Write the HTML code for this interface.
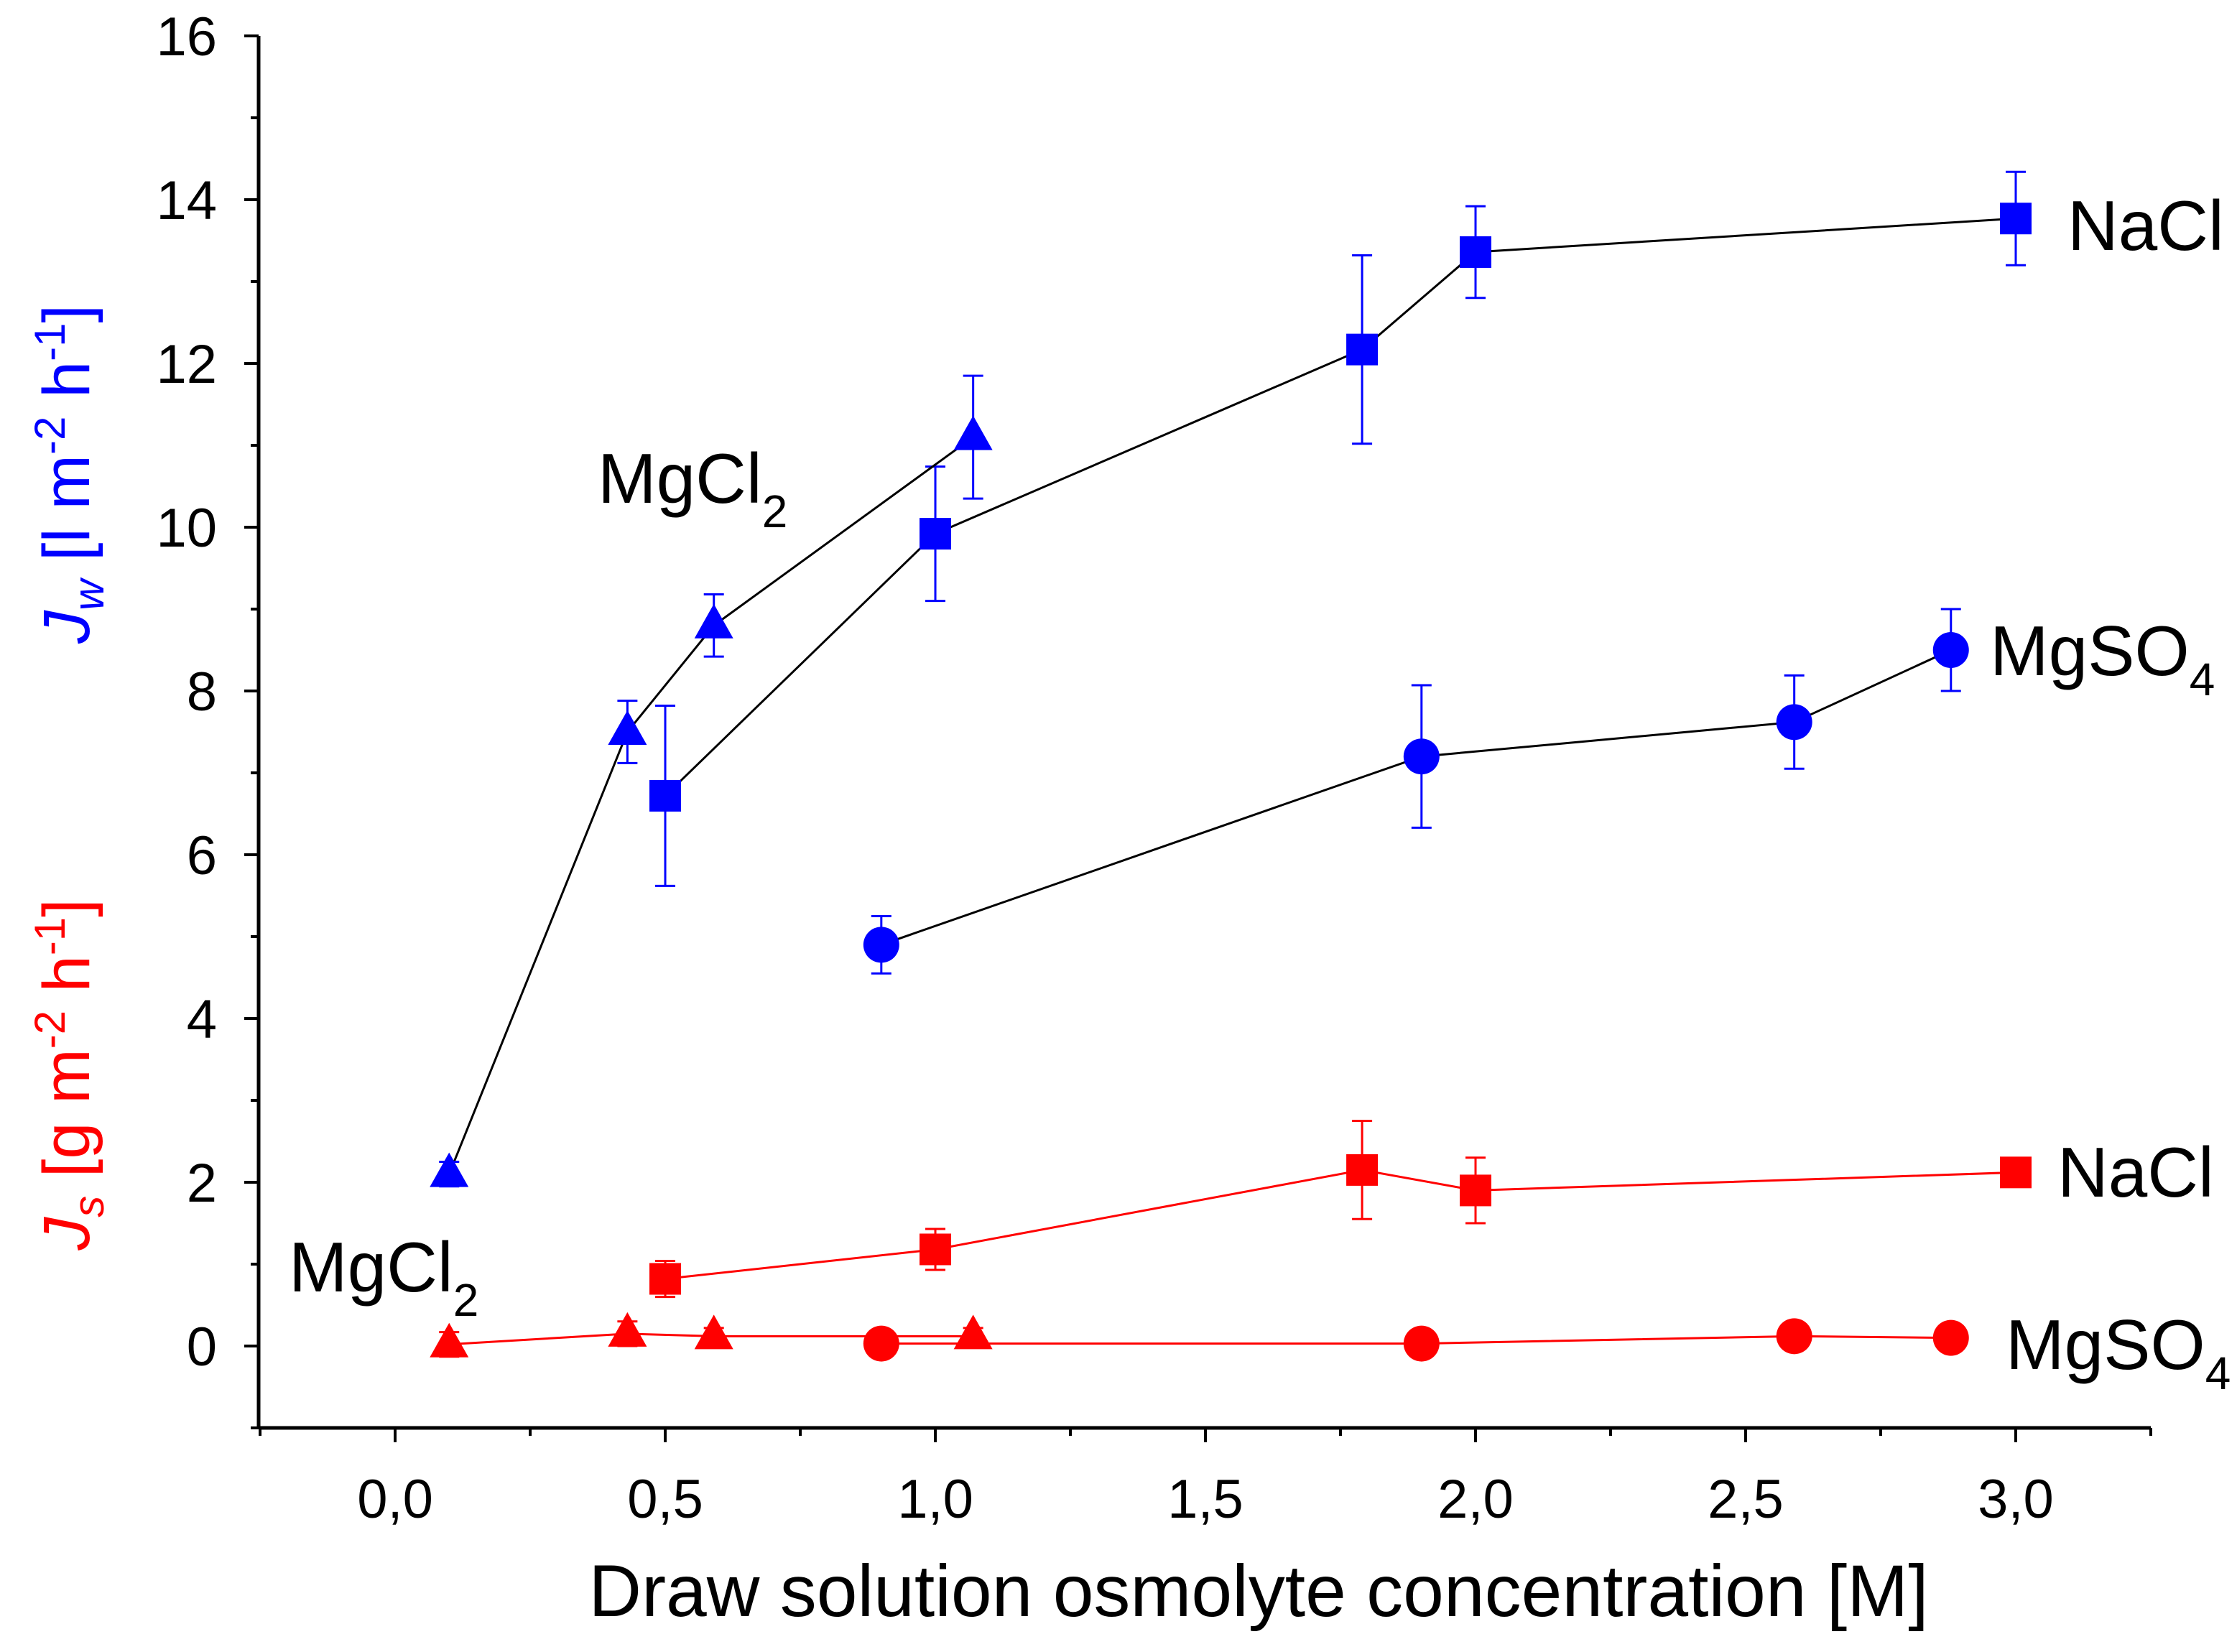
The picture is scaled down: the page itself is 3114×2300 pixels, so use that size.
<!DOCTYPE html>
<html><head><meta charset="utf-8"><style>
html,body{margin:0;padding:0;background:#fff}
svg{display:block;font-family:"Liberation Sans",Arial,sans-serif}
</style></head><body>
<svg id="chart" width="3114" height="2300" viewBox="0 0 3114 2300" xmlns="http://www.w3.org/2000/svg">
<g id="axes"></g>
<g id="series"></g>
<text x="1752" y="2250" font-size="102" text-anchor="middle">Draw solution osmolyte concentration [M]</text>
<text transform="translate(124,660) rotate(-90)" font-size="92" text-anchor="middle" fill="#0000ff"><tspan font-style="italic">J</tspan><tspan font-style="italic" font-size="60" dy="20">w</tspan><tspan dy="-20"> [l m</tspan><tspan font-size="60" dy="-34">-2</tspan><tspan dy="34"> h</tspan><tspan font-size="60" dy="-34">-1</tspan><tspan dy="34">]</tspan></text>
<text transform="translate(124,1496) rotate(-90)" font-size="92" text-anchor="middle" fill="#ff0000"><tspan font-style="italic">J</tspan><tspan font-style="italic" font-size="60" dy="20">s</tspan><tspan dy="-20"> [g m</tspan><tspan font-size="60" dy="-34">-2</tspan><tspan dy="34"> h</tspan><tspan font-size="60" dy="-34">-1</tspan><tspan dy="34">]</tspan></text>
<text x="2878" y="348" font-size="98">NaCl</text>
<text x="2770" y="940" font-size="98">MgSO<tspan font-size="64" dy="28">4</tspan></text>
<text x="832" y="700" font-size="98">MgCl<tspan font-size="64" dy="34">2</tspan></text>
<text x="2864" y="1666" font-size="98">NaCl</text>
<text x="2792" y="1906" font-size="98">MgSO<tspan font-size="64" dy="28">4</tspan></text>
<text x="402" y="1798" font-size="98">MgCl<tspan font-size="64" dy="34">2</tspan></text>
</svg>
<script>
const xTicks=[0,0.5,1,1.5,2,2.5,3];
const xTickLabels=["0,0","0,5","1,0","1,5","2,0","2,5","3,0"];
const yTicks=[0,2,4,6,8,10,12,14,16];
const yTickLabels=["0","2","4","6","8","10","12","14","16"];
const naclWX=[0.5,1.0,1.79,2.0,3.0];
const naclWY=[6.72,9.92,12.17,13.36,13.77];
const naclWE=[1.1,0.82,1.15,0.56,0.57];
const mgcl2WX=[0.1,0.43,0.59,1.07];
const mgcl2WY=[2.1,7.5,8.8,11.1];
const mgcl2WE=[0.15,0.38,0.38,0.75];
const mgso4WX=[0.9,1.9,2.59,2.88];
const mgso4WY=[4.9,7.2,7.62,8.5];
const mgso4WE=[0.35,0.87,0.57,0.5];
const naclSX=[0.5,1.0,1.79,2.0,3.0];
const naclSY=[0.82,1.18,2.15,1.9,2.12];
const naclSE=[0.22,0.25,0.6,0.4,0.05];
const mgcl2SX=[0.1,0.43,0.59,1.07];
const mgcl2SY=[0.02,0.15,0.12,0.12];
const mgcl2SE=[0.15,0.15,0.1,0.1];
const mgso4SX=[0.9,1.9,2.59,2.88];
const mgso4SY=[0.03,0.03,0.12,0.1];
const mgso4SE=[0,0,0,0];

const NS="http://www.w3.org/2000/svg";
const L=360,R=2994,T=50,B=1988,XMIN=-0.2527,XMAX=3.25,YMIN=-1,YMAX=16;
const sx=v=>L+(v-XMIN)/(XMAX-XMIN)*(R-L);
const sy=v=>B-(v-YMIN)/(YMAX-YMIN)*(B-T);
function mk(tag,at,parent){const e=document.createElementNS(NS,tag);for(const k in at)e.setAttribute(k,at[k]);parent.appendChild(e);return e;}
const ax=document.getElementById('axes');
let e=mk('line',{x1:L,y1:T,x2:L,y2:B,stroke:'#000','stroke-width':5},ax);


e=mk('line',{x1:L,y1:B,x2:R,y2:B,stroke:'#000','stroke-width':5},ax);


for(let v=-1;v<=16;v++){const maj=v%2===0;mk('line',{x1:L,x2:L-(maj?20:11),y1:sy(v),y2:sy(v),stroke:'#000','stroke-width':4},ax);}
yTicks.forEach((v,i)=>{const t=mk('text',{x:L-58,y:sy(v)+27,'font-size':76,'text-anchor':'end'},ax);t.textContent=yTickLabels[i];

});
for(let v=-0.25;v<=3.25;v+=0.25){const maj=Math.abs(v*2-Math.round(v*2))<1e-6;mk('line',{x1:sx(v),x2:sx(v),y1:B,y2:B+(maj?20:11),stroke:'#000','stroke-width':4},ax);}
xTicks.forEach((v,i)=>{const t=mk('text',{x:sx(v),y:B+125,'font-size':76,'text-anchor':'middle'},ax);t.textContent=xTickLabels[i];

});
const sg=document.getElementById('series');
function series(name,X,Y,E,color,lineColor,shape){
  const g=mk('g',{},sg);
  
  
  mk('polyline',{points:X.map((x,i)=>sx(x)+','+sy(Y[i])).join(' '),fill:'none',stroke:lineColor,'stroke-width':3},g);
  X.forEach((x,i)=>{const cx=sx(x),cy=sy(Y[i]);
    if(E[i]>0){const y1=sy(Y[i]+E[i]),y2=sy(Y[i]-E[i]);
      mk('line',{x1:cx,x2:cx,y1:y1,y2:y2,stroke:color,'stroke-width':3},g);
      mk('line',{x1:cx-14,x2:cx+14,y1:y1,y2:y1,stroke:color,'stroke-width':3},g);
      mk('line',{x1:cx-14,x2:cx+14,y1:y2,y2:y2,stroke:color,'stroke-width':3},g);}
    let m;
    if(shape==='square')m=mk('rect',{x:cx-22,y:cy-22,width:44,height:44,fill:color},g);
    else if(shape==='circle')m=mk('circle',{cx:cx,cy:cy,r:25,fill:color},g);
    else m=mk('polygon',{points:`${cx},${cy-30} ${cx-27},${cy+18} ${cx+27},${cy+18}`,fill:color},g);
    
    
  });
}
series('nacl-water-flux',naclWX,naclWY,naclWE,'#0000ff','#000','square');
series('mgcl2-water-flux',mgcl2WX,mgcl2WY,mgcl2WE,'#0000ff','#000','triangle');
series('mgso4-water-flux',mgso4WX,mgso4WY,mgso4WE,'#0000ff','#000','circle');
series('nacl-salt-flux',naclSX,naclSY,naclSE,'#ff0000','#ff0000','square');
series('mgcl2-salt-flux',mgcl2SX,mgcl2SY,mgcl2SE,'#ff0000','#ff0000','triangle');
series('mgso4-salt-flux',mgso4SX,mgso4SY,mgso4SE,'#ff0000','#ff0000','circle');
</script>
</body></html>
